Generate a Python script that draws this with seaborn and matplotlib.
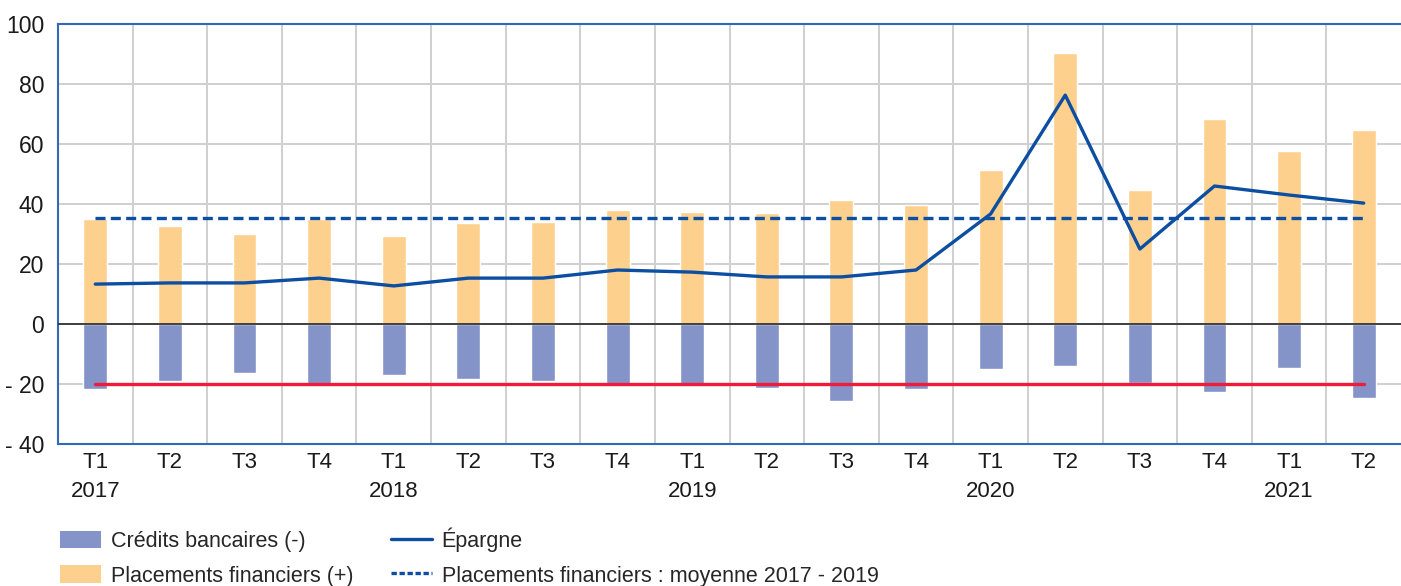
import numpy as np
import pandas as pd
import matplotlib
matplotlib.use("Agg")
import matplotlib.pyplot as plt
import seaborn as sns
from matplotlib.patches import Patch
from matplotlib.lines import Line2D

# ── Data ──────────────────────────────────────────────────────────────────────
quarters = ["T1", "T2", "T3", "T4"] * 4 + ["T1", "T2"]
years = ["2017", "", "", "", "2018", "", "", "", "2019", "", "", "",
         "2020", "", "", "", "2021", ""]
placements = [35.0, 32.7, 30.0, 35.0, 29.3, 33.7, 34.0, 38.0, 37.3, 37.0,
              41.3, 39.7, 51.3, 90.3, 44.7, 68.3, 57.7, 64.7]
credits = [-21.7, -19.0, -16.3, -20.0, -17.0, -18.3, -19.0, -20.0, -20.0, -21.3,
           -25.7, -21.7, -15.0, -14.0, -19.7, -22.7, -14.7, -24.7]
epargne = [13.3, 13.7, 13.7, 15.3, 12.7, 15.3, 15.3, 18.0, 17.3, 15.7,
           15.7, 18.0, 36.7, 76.3, 25.0, 46.0, 43.0, 40.3]
moyenne_placements = 35.3
credit_ref = -20.0

# ── Style ─────────────────────────────────────────────────────────────────────
ORANGE = "#FDD08E"
VIOLET = "#8594C8"
BLUE   = "#0B4EA2"
RED    = "#EE1C3A"
SPINE  = "#2F6AB8"
GRID   = "#CFCFCF"

sns.set_theme(style="white")
plt.rcParams["font.family"] = ["Liberation Sans", "DejaVu Sans"]

n = len(placements)
labels = [f"{q}\n{y}" if y else q for q, y in zip(quarters, years)]
df = pd.DataFrame({"periode": [f"{i}" for i in range(n)],
                   "placements": placements,
                   "credits": credits,
                   "epargne": epargne})

fig = plt.figure(figsize=(14.01, 5.86), dpi=100)
ax = fig.add_axes([0.0414, 0.2423, 0.9586, 0.7167])

sns.barplot(data=df, x="periode", y="placements", color=ORANGE, width=0.32,
            saturation=1, ax=ax, zorder=3)
sns.barplot(data=df, x="periode", y="credits", color=VIOLET, width=0.32,
            saturation=1, ax=ax, zorder=3)

xs = np.arange(n)
sns.lineplot(x=xs, y=epargne, color=BLUE, linewidth=2.4, ax=ax, zorder=5)
ax.plot([0, n - 1], [moyenne_placements] * 2, color=BLUE, linewidth=2.4,
        linestyle=(0, (3, 1.6)), zorder=5)
ax.plot([0, n - 1], [credit_ref] * 2, color=RED, linewidth=2.4, zorder=5)
ax.axhline(0, color="#333333", linewidth=1.3, zorder=4)

# axes
ax.set_xlim(-0.5, n - 0.5)
ax.set_ylim(-40, 100)
ax.set_yticks(range(-40, 101, 20))
ax.set_yticklabels([f"- {abs(v)}" if v < 0 else str(v) for v in range(-40, 101, 20)],
                   fontsize=16.5)
ax.set_xticks(xs)
ax.set_xticklabels(labels, fontsize=16, linespacing=1.45)
ax.set_xticks(np.arange(0.5, n - 1, 1), minor=True)
ax.set_xlabel("")
ax.set_ylabel("")
ax.tick_params(axis="both", which="both", length=0, colors="#1a1a1a")
ax.tick_params(axis="x", pad=6)
ax.tick_params(axis="y", pad=10)

ax.grid(axis="y", which="major", color=GRID, linewidth=1.4, zorder=0)
ax.grid(axis="x", which="minor", color=GRID, linewidth=1.4, zorder=0)
ax.grid(axis="x", which="major", visible=False)
ax.set_axisbelow(True)

for side in ["left", "top", "bottom"]:
    ax.spines[side].set_color(SPINE)
    ax.spines[side].set_linewidth(1.5)
ax.spines["right"].set_visible(False)

# legend
handles = [
    Patch(facecolor=VIOLET, edgecolor="none"),
    Patch(facecolor=ORANGE, edgecolor="none"),
    Line2D([], [], color=BLUE, linewidth=2.4),
    Line2D([], [], color=BLUE, linewidth=2.4, linestyle=(0, (1.6, 0.8))),
]
names = ["Crédits bancaires (-)", "Placements financiers (+)",
         "Épargne", "Placements financiers : moyenne 2017 - 2019"]
fig.legend(handles, names, ncol=2, loc="upper left", bbox_to_anchor=(0.043, 0.100),
           frameon=False, fontsize=15.5, handlelength=1.9, handleheight=0.9,
           handletextpad=0.45, columnspacing=1.75, labelspacing=0.62,
           borderaxespad=0, borderpad=0)

fig.savefig("out.png", dpi=100)
